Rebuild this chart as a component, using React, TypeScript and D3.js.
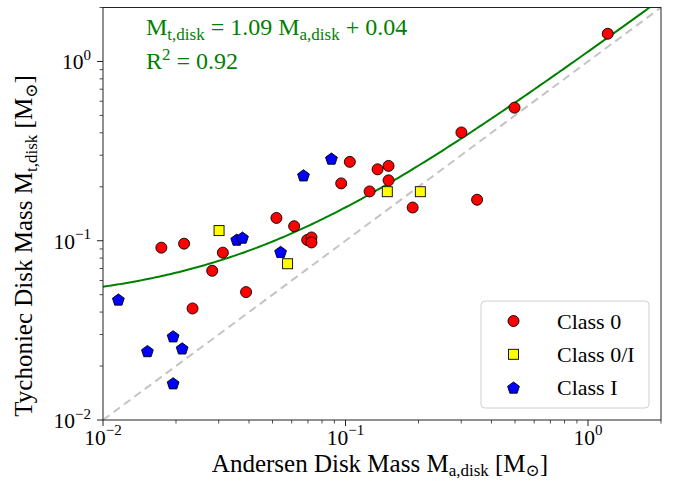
import React from 'react';
import * as d3 from 'd3';

// Class 0 (red circles)
const class0X = [0.0174, 0.0216, 0.0312, 0.0282, 0.0389, 0.0234, 0.0519, 0.0614, 0.0695, 0.0724, 0.0724, 0.096, 0.1042, 0.1356, 0.1505, 0.1505, 0.1257, 0.1892, 0.3006, 0.3488, 0.4977, 1.206];
const class0Y = [0.0915, 0.0963, 0.0858, 0.068, 0.0517, 0.0419, 0.134, 0.1205, 0.101, 0.1043, 0.0978, 0.2089, 0.2754, 0.2502, 0.2615, 0.2172, 0.1884, 0.1532, 0.4018, 0.1693, 0.5526, 1.428];
// Class 0/I (yellow squares)
const class0IX = [0.0301, 0.0577, 0.1487, 0.2035];
const class0IY = [0.1139, 0.0744, 0.1877, 0.1877];
// Class I (blue pentagons)
const class1X = [0.01157, 0.01525, 0.01946, 0.0212, 0.01946, 0.0356, 0.0376, 0.054, 0.0671, 0.0875];
const class1Y = [0.047, 0.02423, 0.0293, 0.02508, 0.01603, 0.1014, 0.1041, 0.0866, 0.2316, 0.2872];

const fitSlope = 1.09;
const fitIntercept = 0.0445;

const axisDomain = [0.01, 2];
const majorTicks = [0.01, 0.1, 1];
const majorTickExp = ['−2', '−1', '0'];
const legendLabels = ['Class 0', 'Class 0/I', 'Class I'];

const FONT = "'Liberation Serif', 'DejaVu Serif', 'Times New Roman', serif";

function pentagonPath(cx: number, cy: number, r: number) {
  const pts: string[] = [];
  for (let i = 0; i < 5; i++) {
    const a = -Math.PI / 2 + (i * 2 * Math.PI) / 5;
    pts.push(`${cx + r * Math.cos(a)},${cy + r * Math.sin(a)}`);
  }
  return 'M' + pts.join('L') + 'Z';
}

function Marker({ kind, cx, cy }: { kind: number; cx: number; cy: number }) {
  if (kind === 0) return <circle cx={cx} cy={cy} r={5.5} fill="#ff0000" stroke="#000" strokeWidth={0.9} />;
  if (kind === 1) return <rect x={cx - 5} y={cy - 5} width={10} height={10} fill="#ffff00" stroke="#000" strokeWidth={0.9} />;
  return <path d={pentagonPath(cx, cy + 0.6, 6.2)} fill="#0000ff" stroke="#000" strokeWidth={0.9} />;
}

export default function App() {
  const W = 680, H = 481;
  const left = 103, right = 661, top = 7.5, bottom = 420;
  const x = d3.scaleLog().domain(axisDomain).range([left, right]);
  const y = d3.scaleLog().domain(axisDomain).range([bottom, top]);

  const minor: number[] = [];
  for (let k = -2; k <= 0; k++) for (let m = 2; m <= 9; m++) {
    const v = m * Math.pow(10, k);
    if (v <= axisDomain[1]) minor.push(v);
  }

  const fitPts: [number, number][] = [];
  const n = 200;
  for (let i = 0; i <= n; i++) {
    const lv = Math.log10(axisDomain[0]) + (i / n) * (Math.log10(axisDomain[1]) - Math.log10(axisDomain[0]));
    const xv = Math.pow(10, lv);
    fitPts.push([x(xv), y(fitSlope * xv + fitIntercept)]);
  }
  const line = d3.line();
  const idPts: [number, number][] = [[x(axisDomain[0]), y(axisDomain[0])], [x(axisDomain[1]), y(axisDomain[1])]];

  const green = '#008000';
  const subK = 0.27;
  const sub = (s: string, size: number) => (
    <tspan fontSize={size} dy={size * subK}>{s}</tspan>
  );

  const labFs = 25, labSub = 17;
  const annFs = 24, annSub = 17;
  const tickFs = 21.5, tickSup = 15;

  return (
    <svg width={W} height={H} style={{ position: 'absolute', left: 0, top: 0, background: '#fff' }} fontFamily={FONT}>
      <defs>
        <clipPath id="plotclip"><rect x={left} y={top} width={right - left} height={bottom - top} /></clipPath>
      </defs>
      <rect x={0} y={0} width={W} height={H} fill="#fff" />
      <g clipPath="url(#plotclip)">
        <path d={line(idPts) || ''} fill="none" stroke="#c4c4c4" strokeWidth={2} strokeDasharray="8,5" />
        <path d={line(fitPts) || ''} fill="none" stroke={green} strokeWidth={2} />
        {class0X.map((v, i) => <Marker key={'a' + i} kind={0} cx={x(v)} cy={y(class0Y[i])} />)}
        {class0IX.map((v, i) => <Marker key={'b' + i} kind={1} cx={x(v)} cy={y(class0IY[i])} />)}
        {class1X.map((v, i) => <Marker key={'c' + i} kind={2} cx={x(v)} cy={y(class1Y[i])} />)}
      </g>
      <rect x={left} y={top} width={right - left} height={bottom - top} fill="none" stroke="#222" strokeWidth={1} />

      {/* x ticks */}
      {majorTicks.map((t, i) => (
        <g key={'xt' + i}>
          <line x1={x(t)} x2={x(t)} y1={bottom} y2={bottom + 6} stroke="#222" strokeWidth={1} />
          <text x={x(t)} y={bottom + 24.5} fontSize={tickFs} textAnchor="middle" fill="#000">
            10<tspan fontSize={tickSup} dy={-9.5}>{majorTickExp[i]}</tspan>
          </text>
        </g>
      ))}
      {minor.map((t, i) => (
        <line key={'xm' + i} x1={x(t)} x2={x(t)} y1={bottom} y2={bottom + 3.5} stroke="#222" strokeWidth={0.8} />
      ))}
      {/* y ticks */}
      {majorTicks.map((t, i) => (
        <g key={'yt' + i}>
          <line x1={left - 6} x2={left} y1={y(t)} y2={y(t)} stroke="#222" strokeWidth={1} />
          <text x={left - 12} y={y(t) + 8} fontSize={tickFs} textAnchor="end" fill="#000">
            10<tspan fontSize={tickSup} dy={-9.5}>{majorTickExp[i]}</tspan>
          </text>
        </g>
      ))}
      {minor.map((t, i) => (
        <line key={'ym' + i} x1={left - 3.5} x2={left} y1={y(t)} y2={y(t)} stroke="#222" strokeWidth={0.8} />
      ))}

      {/* axis labels */}
      <text x={380} y={471.5} fontSize={labFs} textAnchor="middle" fill="#000">
        Andersen Disk Mass M{sub('a,disk', labSub)}<tspan dy={-labSub * subK}> [M</tspan>{sub('⊙', labSub)}<tspan dy={-labSub * subK}>]</tspan>
      </text>
      <text transform={`translate(32, 246) rotate(-90)`} x={0} y={0} fontSize={labFs} textAnchor="middle" fill="#000">
        Tychoniec Disk Mass M{sub('t,disk', labSub)}<tspan dy={-labSub * subK}> [M</tspan>{sub('⊙', labSub)}<tspan dy={-labSub * subK}>]</tspan>
      </text>

      {/* annotation */}
      <text x={146} y={35} fontSize={annFs} fill={green}>
        M{sub('t,disk', annSub)}<tspan dy={-annSub * subK}> = 1.09 M</tspan>{sub('a,disk', annSub)}<tspan dy={-annSub * subK}> + 0.04</tspan>
      </text>
      <text x={146} y={69} fontSize={annFs} fill={green}>
        R<tspan fontSize={annSub} dy={-9.5}>2</tspan><tspan dy={9.5}> = 0.92</tspan>
      </text>

      {/* legend */}
      <rect x={481} y={301} width={168} height={107} rx={4} fill="#fff" fillOpacity={0.8} stroke="#d0d0d0" strokeWidth={1} />
      {legendLabels.map((lab, i) => (
        <g key={'lg' + i}>
          <Marker kind={i} cx={513.5} cy={321 + i * 33.3} />
          <text x={557} y={321 + i * 33.3 + 7.5} fontSize={22} fill="#000">{lab}</text>
        </g>
      ))}
    </svg>
  );
}
